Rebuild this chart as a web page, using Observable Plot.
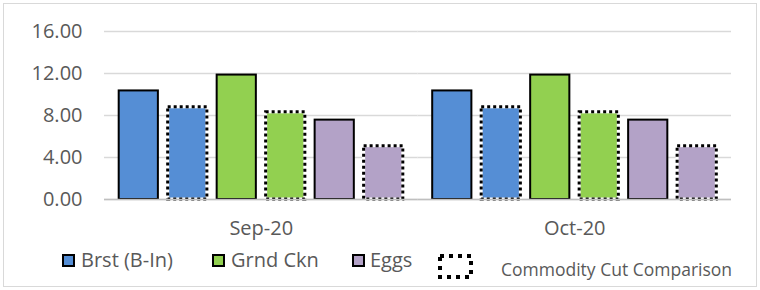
<!DOCTYPE html>
<html>
<head>
<meta charset="utf-8">
<script src="https://cdn.jsdelivr.net/npm/d3@7"></script>
<script src="https://cdn.jsdelivr.net/npm/@observablehq/plot@0.6"></script>
<style>
  html, body { margin: 0; padding: 0; background: #fff; }
  body { width: 760px; height: 290px; position: relative; overflow: hidden; font-family: "Open Sans", sans-serif; }
  #chart { position: absolute; left: 3px; top: 3px; width: 754px; height: 284px; border: 1px solid #d9d9d9; box-sizing: border-box; }
  #plot { position: absolute; left: 0; top: 0; }
  .lg { position: absolute; color: #595959; white-space: nowrap; line-height: 1; }
  .sw { position: absolute; width: 13px; height: 13px; box-sizing: border-box; border: 2px solid #000; }
</style>
</head>
<body>
<div id="chart">
  <div id="plot"></div>
  <div id="legend"></div>
</div>
<script>
// ---- data ----
const months = ["Sep-20", "Oct-20"];
const seriesNames = ["Brst (B-In)", "Brst (B-In) Cut", "Grnd Ckn", "Grnd Ckn Cut", "Eggs", "Eggs Cut"];
const seriesColors = ["#558ed5", "#558ed5", "#92d050", "#92d050", "#b3a2c7", "#b3a2c7"];
const seriesDotted = [false, true, false, true, false, true];
const brst = [10.34, 10.34];
const brstCut = [8.78, 8.78];
const grnd = [11.85, 11.85];
const grndCut = [8.3, 8.3];
const eggs = [7.56, 7.56];
const eggsCut = [5.08, 5.08];
const yTicks = [0, 4, 8, 12, 16];
const legendLabels = ["Brst (B-In)", "Grnd Ckn", "Eggs", "Commodity Cut Comparison"];

const seriesValues = [brst, brstCut, grnd, grndCut, eggs, eggsCut];
const rows = [];
months.forEach((m, i) => {
  seriesNames.forEach((s, j) => {
    rows.push({month: m, series: s, value: seriesValues[j][i], color: seriesColors[j], dotted: seriesDotted[j]});
  });
});
const solid = rows.filter(d => !d.dotted);
const dotted = rows.filter(d => d.dotted);

const chart = Plot.plot({
  width: 752,
  height: 242,
  marginLeft: 100,
  marginRight: 25,
  marginTop: 27,
  marginBottom: 47,
  style: {fontFamily: "'Open Sans', sans-serif", background: "transparent"},
  fx: {domain: months, padding: 0, round: false, label: null},
  x: {domain: seriesNames, paddingInner: 0.2, paddingOuter: 0.3, round: false, axis: null},
  y: {domain: [0, 16], label: null},
  marks: [
    Plot.gridY(yTicks, {stroke: "#d9d9d9", strokeOpacity: 1, strokeWidth: 1.5}),
    Plot.axisY(yTicks, {tickSize: 0, tickPadding: 22, tickFormat: d3.format(".2f"), fontSize: 20, fill: "#595959", label: null}),
    Plot.barY(solid, {fx: "month", x: "series", y: "value", fill: "color", stroke: "#000", strokeWidth: 2}),
    Plot.barY(dotted, {fx: "month", x: "series", y: "value", fill: "color", stroke: "#fff", strokeWidth: 3}),
    Plot.barY(dotted, {fx: "month", x: "series", y: "value", fill: "none", stroke: "#000", strokeWidth: 3, strokeDasharray: "3,3"}),
    Plot.ruleY([0], {stroke: "#bfbfbf", strokeWidth: 1.5}),
    Plot.axisFx({anchor: "bottom", tickSize: 0, tickPadding: 21, fontSize: 20, fill: "#595959", label: null})
  ]
});
document.getElementById("plot").appendChild(chart);

// ---- legend (positions relative to chart box, origin at page x=4,y=4) ----
const lg = document.getElementById("legend");
function sw(left, color) {
  const e = document.createElement("div");
  e.className = "sw"; e.style.left = left + "px"; e.style.top = "250px"; e.style.background = color;
  lg.appendChild(e);
}
function txt(left, top, size, s) {
  const e = document.createElement("div");
  e.className = "lg"; e.style.left = left + "px"; e.style.top = top + "px"; e.style.fontSize = size + "px";
  e.textContent = s; lg.appendChild(e);
}
sw(58, seriesColors[0]); txt(77, 246, 20, legendLabels[0]);
sw(208, seriesColors[2]); txt(227, 246, 20, legendLabels[1]);
sw(348, seriesColors[4]); txt(366, 246, 20, legendLabels[2]);
const icon = document.createElementNS("http://www.w3.org/2000/svg", "svg");
icon.setAttribute("width", 36); icon.setAttribute("height", 26);
icon.style.position = "absolute"; icon.style.left = "434px"; icon.style.top = "250px";
icon.innerHTML = '<rect x="2" y="2" width="31" height="21" fill="#fff" stroke="#000" stroke-width="4" stroke-dasharray="4,5"/>';
lg.appendChild(icon);
txt(497, 257, 17.5, legendLabels[3]);
</script>
</body>
</html>
